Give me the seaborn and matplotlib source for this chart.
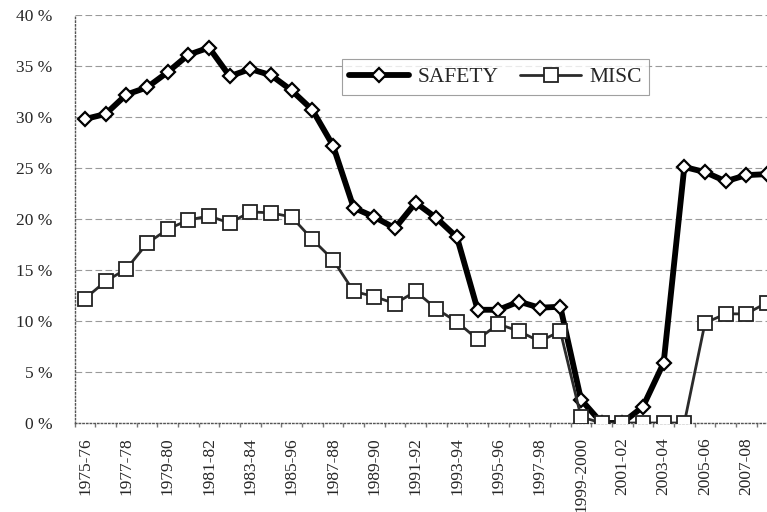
import matplotlib
matplotlib.use("Agg")
import numpy as np
import pandas as pd
import matplotlib.pyplot as plt
import seaborn as sns

# seasons as printed on the axis (the "1985-96" typo is in the original)
seasons = ["1975-76", "1976-77", "1977-78", "1978-79", "1979-80", "1980-81",
           "1981-82", "1982-83", "1983-84", "1984-85", "1985-96", "1986-87",
           "1987-88", "1988-89", "1989-90", "1990-91", "1991-92", "1992-93",
           "1993-94", "1994-95", "1995-96", "1996-97", "1997-98", "1998-99",
           "1999-2000", "2000-01", "2001-02", "2002-03", "2003-04", "2004-05",
           "2005-06", "2006-07", "2007-08", "2008-09"]

safety = [29.8, 30.3, 32.2, 32.9, 34.4, 36.1, 36.8, 34.0, 34.7, 34.1,
          32.6, 30.7, 27.2, 21.1, 20.2, 19.1, 21.6, 20.1, 18.2, 11.1,
          11.1, 11.9, 11.3, 11.4, 2.3, 0.0, 0.0, 1.6, 5.9, 25.1,
          24.6, 23.7, 24.3, 24.4]

misc = [12.2, 13.9, 15.1, 17.6, 19.0, 19.9, 20.3, 19.6, 20.7, 20.6,
        20.2, 18.0, 16.0, 12.9, 12.4, 11.7, 12.9, 11.2, 9.9, 8.2,
        9.7, 9.0, 8.0, 9.0, 0.6, 0.0, 0.0, 0.0, 0.0, 0.0,
        9.8, 10.7, 10.7, 11.8]

df = pd.DataFrame({"idx": np.arange(len(seasons)), "season": seasons,
                   "SAFETY": safety, "MISC": misc})

sns.set_theme(style="white")
plt.rcParams["font.family"] = ["Liberation Serif", "DejaVu Serif"]

W, H = 767, 512
fig = plt.figure(figsize=(W / 100, H / 100), dpi=100)
# plot area runs past the right edge, the original picture is cropped there
ax = fig.add_axes([74.7 / W, 1 - 423 / H, (777.3 - 74.7) / W, 408 / H])

sns.lineplot(data=df, x="idx", y="SAFETY", ax=ax, color="black", lw=4.2,
             marker="D", markersize=6.8, markerfacecolor="white",
             markeredgecolor="black", markeredgewidth=1.6,
             label="SAFETY", zorder=3)
sns.lineplot(data=df, x="idx", y="MISC", ax=ax, color="#2b2b2b", lw=2,
             marker="s", markersize=9.5, markerfacecolor="white",
             markeredgecolor="#222222", markeredgewidth=1.3,
             label="MISC", zorder=4)

ax.set_xlim(-0.5, 33.5)
ax.set_ylim(0, 40)
ax.set_yticks(range(0, 41, 5))
ax.set_yticklabels([f"{v} %" for v in range(0, 41, 5)], fontsize=12.5)
ax.set_xticks(df["idx"][::2])
ax.set_xticklabels(seasons[::2], rotation=90, fontsize=12.5)
ax.set_xticks(np.arange(-0.5, 34, 1), minor=True)
ax.tick_params(axis="x", which="major", length=0, pad=10)
ax.tick_params(axis="x", which="minor", length=3, color="#777777",
               direction="out", bottom=True)
ax.tick_params(axis="y", length=0, pad=16)
ax.set_xlabel("")
ax.set_ylabel("")

ax.grid(axis="y", color="#9a9a9a", linestyle=(0, (6, 3)), lw=0.8)
ax.grid(axis="x", visible=False)
for s in ["top", "right"]:
    ax.spines[s].set_visible(False)
for s in ["left", "bottom"]:
    ax.spines[s].set_color("#555555")
    ax.spines[s].set_linewidth(1.0)
    ax.spines[s].set_linestyle(":")

leg = ax.legend(loc="center", bbox_to_anchor=(0.646, 0.8496),
                bbox_transform=fig.transFigure, ncol=2, fontsize=15.5,
                handlelength=2.8, handletextpad=0.4, columnspacing=1.0,
                borderpad=0.35, frameon=True, fancybox=False)
leg.get_frame().set_edgecolor("#888888")
leg.get_frame().set_linewidth(0.8)

fig.savefig("out.png", dpi=100)
